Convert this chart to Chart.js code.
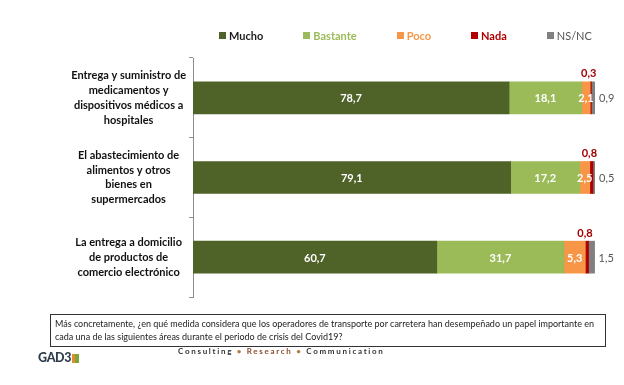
<!DOCTYPE html>
<html>
<head>
<meta charset="utf-8">
<script src="https://cdn.jsdelivr.net/npm/chart.js@4/dist/chart.umd.min.js"></script>
<style>
  html, body { margin: 0; padding: 0; background: #fff; }
  #wrap { position: relative; width: 624px; height: 385px; font-family: Lato, 'Open Sans', sans-serif; }
  #chart { position: absolute; left: 0; top: 0; }
  #legend { position: absolute; left: 219px; top: 29px; display: flex; gap: 40px; font-size: 11px; font-weight: 700; }
  #legend .item { display: flex; align-items: center; gap: 3px; white-space: nowrap; }
  #legend .box { width: 7px; height: 7px; display: inline-block; }
  #question {
    position: absolute; left: 50px; top: 314px; width: 546px; height: 27px;
    border: 1px solid #333; padding: 2px 4px; font-size: 9px; line-height: 13px; color: #222;
    white-space: nowrap; box-sizing: content-box;
  }
  #logo { position: absolute; left: 38px; top: 350px; font-size: 12.5px; font-weight: 900; color: #2f3d4c; letter-spacing: -0.3px; }
  #logo span.cube { display: inline-block; width: 7px; height: 9px; margin-left: 1px; vertical-align: -1px;
    background: linear-gradient(90deg, #e8892b 50%, #7aa63a 50%); }
  #tagline { position: absolute; left: 178px; top: 346px; font-size: 8px; font-weight: 700; letter-spacing: 1.7px; color: #333; white-space: nowrap; }
  #tagline .res { color: #8a4b2f; }
  #tagline .dot { color: #b07a3a; }
</style>
</head>
<body>
<div id="wrap">
  <canvas id="chart" width="624" height="385"></canvas>
  <div id="legend"></div>
  <div id="question">Más concretamente, ¿en qué medida considera que los operadores de transporte por carretera han desempeñado un papel importante en<br>cada una de las siguientes áreas durante el periodo de crisis del Covid19?</div>
  <div id="logo">GAD3<span class="cube"></span></div>
  <div id="tagline">Consulting <span class="dot">•</span> <span class="res">Research</span> <span class="dot">•</span> Communication</div>
</div>
<script>
const categories = [
  ['Entrega y suministro de', 'medicamentos y', 'dispositivos médicos a', 'hospitales'],
  ['El abastecimiento de', 'alimentos y otros', 'bienes en', 'supermercados'],
  ['La entrega a domicilio', 'de productos de', 'comercio electrónico']
];

const seriesNames = ['Mucho', 'Bastante', 'Poco', 'Nada', 'NS/NC'];
const mucho = [78.7, 79.1, 60.7];
const bastante = [18.1, 17.2, 31.7];
const poco = [2.1, 2.5, 5.3];
const nada = [0.3, 0.8, 0.8];
const nsnc = [0.9, 0.5, 1.5];

const barColors = ['#4f6228', '#9bbb59', '#f79646', '#b00000', '#808080'];
const legendTextColors = ['#1e1e1e', '#9bbb59', '#f79646', '#b00000', '#555555'];
// where each series puts its value label
const labelPlacement = ['inside', 'inside', 'inside', 'above', 'right'];

const fmt = (v) => v.toFixed(1).replace('.', ',');

const valueLabels = {
  id: 'valueLabels',
  afterDatasetsDraw(chart) {
    const ctx = chart.ctx;
    ctx.save();
    chart.data.datasets.forEach((ds, i) => {
      const meta = chart.getDatasetMeta(i);
      meta.data.forEach((bar, j) => {
        const { x, y, base, height } = bar.getProps(['x', 'y', 'base', 'height'], true);
        const text = fmt(ds.data[j]);
        const mode = labelPlacement[i];
        if (mode === 'inside') {
          ctx.font = 'bold 11px Lato, sans-serif';
          ctx.fillStyle = '#ffffff';
          ctx.textAlign = 'center';
          ctx.textBaseline = 'middle';
          ctx.fillText(text, (x + base) / 2, y + 1);
        } else if (mode === 'above') {
          ctx.font = 'bold 11px Lato, sans-serif';
          ctx.fillStyle = '#a00000';
          ctx.textAlign = 'center';
          ctx.textBaseline = 'middle';
          ctx.fillText(text, (x + base) / 2 - 2, y - height / 2 - 8);
        } else {
          ctx.font = '11px Lato, sans-serif';
          ctx.fillStyle = '#555555';
          ctx.textAlign = 'left';
          ctx.textBaseline = 'middle';
          ctx.fillText(text, x + 4, y + 1);
        }
      });
    });
    ctx.restore();
  }
};

const seriesData = [mucho, bastante, poco, nada, nsnc];

const chart = new Chart(document.getElementById('chart'), {
  type: 'bar',
  data: {
    labels: categories,
    datasets: seriesNames.map((name, i) => ({
      label: name,
      data: seriesData[i],
      backgroundColor: barColors[i],
      borderWidth: 0,
      barThickness: 32
    }))
  },
  options: {
    indexAxis: 'y',
    responsive: false,
    animation: false,
    layout: { padding: { left: 55, right: 29, top: 58, bottom: 88 } },
    scales: {
      x: {
        stacked: true,
        min: 0,
        max: 100.1,
        display: false
      },
      y: {
        stacked: true,
        afterFit: (scale) => { scale.width = 138; },
        grid: {
          offset: true,
          drawOnChartArea: false,
          tickLength: 4,
          color: '#8c8c8c'
        },
        border: { display: true, color: '#8c8c8c' },
        ticks: {
          crossAlign: 'center',
          color: '#111',
          font: { family: 'Lato', size: 11, weight: 'bold', lineHeight: 1.35 }
        }
      }
    },
    plugins: {
      legend: { display: false },
      tooltip: { enabled: false }
    }
  },
  plugins: [valueLabels]
});

// html legend built from the chart's datasets
const legendEl = document.getElementById('legend');
chart.data.datasets.forEach((ds, i) => {
  const item = document.createElement('div');
  item.className = 'item';
  const box = document.createElement('span');
  box.className = 'box';
  box.style.background = ds.backgroundColor;
  const txt = document.createElement('span');
  txt.textContent = ds.label;
  txt.style.color = legendTextColors[i];
  if (i === 4) txt.style.fontWeight = '400';
  item.appendChild(box);
  item.appendChild(txt);
  legendEl.appendChild(item);
});
</script>
</body>
</html>
